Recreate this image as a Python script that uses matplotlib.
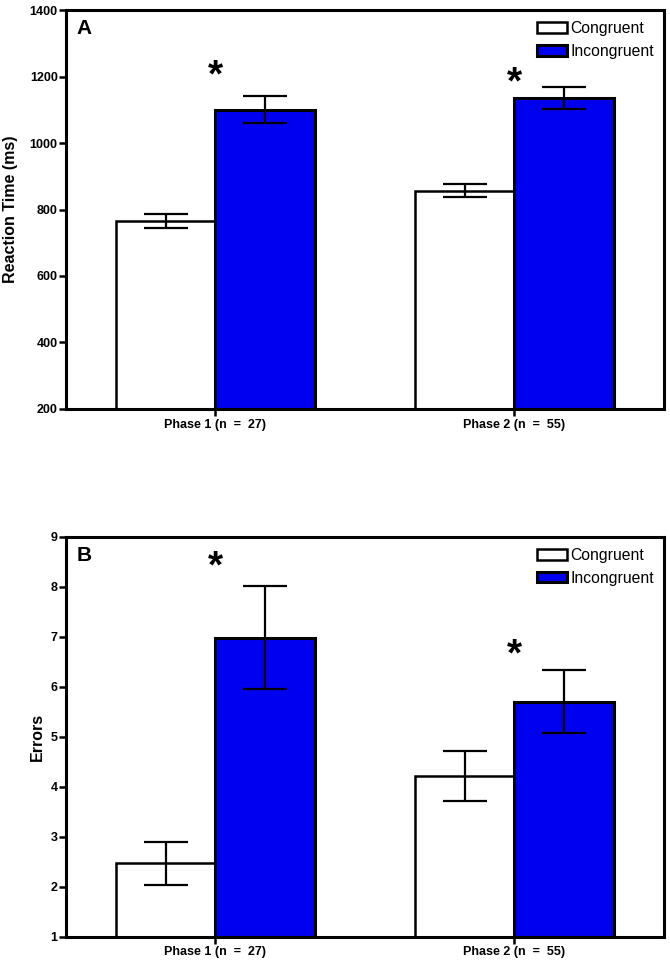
import numpy as np
import matplotlib.pyplot as plt

plt.rcParams['font.family'] = ['Liberation Sans', 'DejaVu Sans']

# data
phases = ['Phase 1 (n  =  27)', 'Phase 2 (n  =  55)']
rt_congruent = [765, 857]
rt_congruent_err = [22, 20]
rt_incongruent = [1100, 1135]
rt_incongruent_err = [41, 34]
rt_star = [1220, 1199]

err_congruent = [2.47, 4.22]
err_congruent_err = [0.43, 0.50]
err_incongruent = [6.98, 5.70]
err_incongruent_err = [1.03, 0.63]
err_star = [8.53, 6.77]

blue = '#0000F0'
w = 1 / 3


def panel(ax, cong, cong_e, incong, incong_e, stars, ylim, yticks, ylabel,
          letter, label_x):
    x = np.arange(len(phases))
    base = ylim[0]
    ax.bar(x - w / 2, np.array(cong) - base, w, bottom=base, color='white',
           edgecolor='black', linewidth=1.8, label='Congruent', zorder=2)
    ax.bar(x + w / 2, np.array(incong) - base, w, bottom=base, color=blue,
           edgecolor='black', linewidth=2.2, label='Incongruent', zorder=2)
    ax.errorbar(x - w / 2, cong, yerr=cong_e, fmt='none', ecolor='black',
                elinewidth=1.6, capsize=15.5, capthick=1.6, zorder=3)
    ax.errorbar(x + w / 2, incong, yerr=incong_e, fmt='none', ecolor='black',
                elinewidth=1.6, capsize=15.5, capthick=1.6, zorder=3)
    for xi, s in zip(x, stars):
        # shift so the glyph ink sits on the value
        ax.annotate('*', (xi, s), xytext=(0, -5), textcoords='offset points',
                    ha='center', va='center', fontsize=28, fontweight='bold')
    ax.set_xlim(-0.5, 1.5)
    ax.set_ylim(*ylim)
    ax.set_yticks(yticks)
    ax.set_xticks(x)
    ax.set_xticklabels(phases, fontsize=9, fontweight='bold')
    for lab in ax.get_yticklabels():
        lab.set_fontsize(9)
        lab.set_fontweight('bold')
    ax.set_ylabel(ylabel, fontsize=11.5, fontweight='bold')
    ax.yaxis.set_label_coords(label_x, 0.5)
    for sp in ax.spines.values():
        sp.set_linewidth(2.2)
    ax.tick_params(axis='y', length=5, width=1.8, pad=1)
    ax.tick_params(axis='x', length=5, width=1.8, pad=2)
    ax.text(0.017, 0.977, letter, transform=ax.transAxes, ha='left', va='top',
            fontsize=15, fontweight='bold')
    ax.legend(loc='upper left', bbox_to_anchor=(0.7876, 0.972), frameon=False,
              fontsize=11.3, handlelength=1.9, handleheight=0.65,
              handletextpad=0.25, borderpad=0, borderaxespad=0,
              labelspacing=0.5)


fig = plt.figure(figsize=(6.7, 9.63), dpi=100)
ax1 = fig.add_axes([0.0985, 0.5753, 0.8925, 0.4143])
ax2 = fig.add_axes([0.0985, 0.0273, 0.8925, 0.4154])

panel(ax1, rt_congruent, rt_congruent_err, rt_incongruent, rt_incongruent_err,
      rt_star, (200, 1400), range(200, 1401, 200), 'Reaction Time (ms)', 'A',
      -0.080)
panel(ax2, err_congruent, err_congruent_err, err_incongruent, err_incongruent_err,
      err_star, (1, 9), range(1, 10), 'Errors', 'B', -0.035)

fig.savefig('out.png', dpi=100)
